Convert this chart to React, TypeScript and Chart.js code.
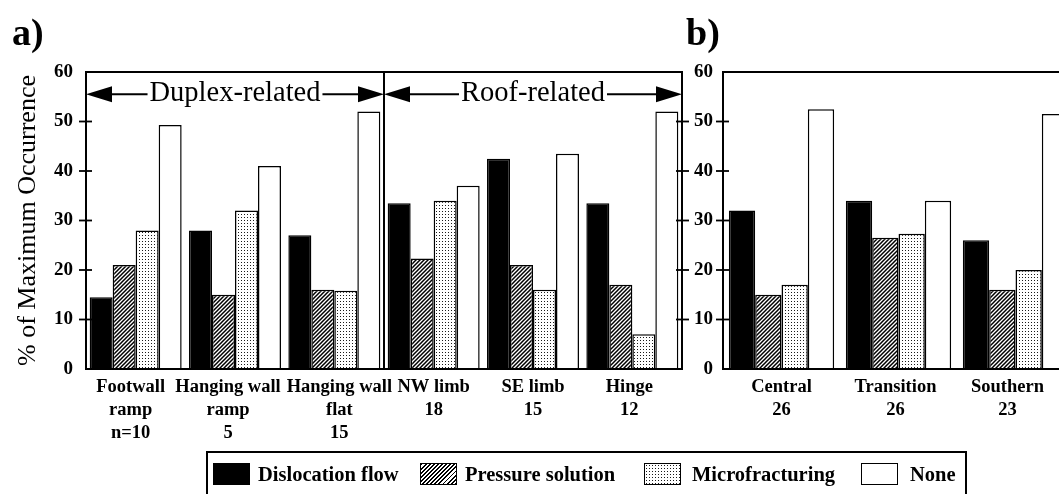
import React, { useEffect, useRef } from "react";
import { Chart, registerables } from "chart.js";

Chart.register(...registerables);

// ---------- DATA ----------
const seriesNames = ["Dislocation flow", "Pressure solution", "Microfracturing", "None"];

const categoriesA = [
  ["Footwall", "ramp", "n=10"],
  ["Hanging wall", "ramp", "5"],
  ["Hanging wall", "flat", "15"],
  ["NW limb", "18"],
  ["SE limb", "15"],
  ["Hinge", "12"],
];
const dislocationA = [14.5, 28, 27, 33.5, 42.5, 33.5];
const pressureA = [21, 15, 16, 22.3, 21, 17];
const microA = [28, 32, 15.8, 34, 16, 7];
const noneA = [49.3, 41, 52, 37, 43.5, 52];

const categoriesB = [
  ["Central", "26"],
  ["Transition", "26"],
  ["Southern", "23"],
];
const dislocationB = [32, 34, 26];
const pressureB = [15, 26.5, 16];
const microB = [17, 27.3, 20];
const noneB = [52.5, 34, 51.5];

const yMin = 0;
const yMax = 60;
const yStep = 10;
const groupLabels = ["Duplex-related", "Roof-related"];
const arrowLevel = 55.5;
const yTitle = "% of Maximum Occurrence";
const panelLabels = ["a)", "b)"];

// label nudges (layout only, px)
const labelShiftA = [-5, -7, 5, 0, 0, -3];
const labelShiftB = [0, -3, -8];

// ---------- STYLE ----------
const SERIF = "'Liberation Serif', 'Times New Roman', serif";
const tickFont = { family: SERIF, size: 19, weight: "bold" as const };
const labelFont = { family: SERIF, size: 18.5, weight: "bold" as const, lineHeight: 1.24 };

function makePatterns(ctx: CanvasRenderingContext2D) {
  const s = 4;
  const hatch = document.createElement("canvas");
  hatch.width = s;
  hatch.height = s;
  const h = hatch.getContext("2d")!;
  h.fillStyle = "#fff";
  h.fillRect(0, 0, s, s);
  h.strokeStyle = "#000";
  h.lineWidth = 1.5;
  h.beginPath();
  h.moveTo(-1, s + 1);
  h.lineTo(s + 1, -1);
  h.moveTo(-1, 1);
  h.lineTo(1, -1);
  h.moveTo(s - 1, s + 1);
  h.lineTo(s + 1, s - 1);
  h.stroke();

  const dots = document.createElement("canvas");
  dots.width = 3;
  dots.height = 3;
  const d = dots.getContext("2d")!;
  d.fillStyle = "#fff";
  d.fillRect(0, 0, 3, 3);
  d.fillStyle = "#1a1a1a";
  d.fillRect(1, 1, 1, 1);

  return {
    hatch: ctx.createPattern(hatch, "repeat")!,
    dots: ctx.createPattern(dots, "repeat")!,
  };
}

function buildDatasets(series: number[][], ctx: CanvasRenderingContext2D) {
  const p = makePatterns(ctx);
  const fills: any[] = ["#000", p.hatch, p.dots, "#fff"];
  return series.map((data, i) => ({
    label: seriesNames[i],
    data,
    backgroundColor: fills[i],
    borderColor: "#000",
    borderWidth: 1.5,
  }));
}

function line(ctx: CanvasRenderingContext2D, x1: number, y1: number, x2: number, y2: number) {
  ctx.beginPath();
  ctx.moveTo(x1, y1);
  ctx.lineTo(x2, y2);
  ctx.stroke();
}

function drawArrow(ctx: CanvasRenderingContext2D, x1: number, x2: number, yy: number, text: string) {
  const headL = 26;
  const headH = 8;
  ctx.save();
  ctx.font = `normal 28.5px ${SERIF}`;
  const w = ctx.measureText(text).width;
  const cx = (x1 + x2) / 2;
  ctx.fillStyle = "#000";
  ctx.strokeStyle = "#000";
  ctx.lineWidth = 2;
  ctx.beginPath();
  ctx.moveTo(x1, yy);
  ctx.lineTo(x1 + headL, yy - headH);
  ctx.lineTo(x1 + headL, yy + headH);
  ctx.closePath();
  ctx.fill();
  ctx.beginPath();
  ctx.moveTo(x2, yy);
  ctx.lineTo(x2 - headL, yy - headH);
  ctx.lineTo(x2 - headL, yy + headH);
  ctx.closePath();
  ctx.fill();
  line(ctx, x1 + headL - 1, yy, cx - w / 2 - 2, yy);
  line(ctx, cx + w / 2 + 2, yy, x2 - headL + 1, yy);
  ctx.textAlign = "center";
  ctx.textBaseline = "middle";
  ctx.fillText(text, cx, yy - 1);
  ctx.restore();
}

function tickValues() {
  const v: number[] = [];
  for (let t = yMin + yStep; t < yMax; t += yStep) v.push(t);
  return v;
}

function shiftLabels(chart: any, shifts: number[]) {
  const sx = chart.scales.x;
  const items = sx.getLabelItems(chart.chartArea);
  items.forEach((it: any, i: number) => {
    if (it._shifted) return;
    it._shifted = true;
    it.options.translation[0] += shifts[i] || 0;
  });
}

const framePluginA = {
  id: "frameA",
  beforeDraw(chart: any) {
    shiftLabels(chart, labelShiftA);
  },
  afterDraw(chart: any) {
    const { ctx, chartArea, scales } = chart;
    const { left, right, top, bottom } = chartArea;
    const x = scales.x;
    const y = scales.y;
    ctx.save();
    ctx.strokeStyle = "#000";
    ctx.lineWidth = 2;
    ctx.strokeRect(left, top, right - left, bottom - top);
    const xd = (x.getPixelForValue(2) + x.getPixelForValue(3)) / 2;
    line(ctx, xd, top, xd, bottom);
    ctx.lineWidth = 1.8;
    tickValues().forEach((v) => {
      const py = y.getPixelForValue(v);
      line(ctx, left - 7, py, left + 6, py);
      line(ctx, right - 6, py, right + 7, py);
    });
    const ay = y.getPixelForValue(arrowLevel);
    drawArrow(ctx, left, xd, ay, groupLabels[0]);
    drawArrow(ctx, xd, right, ay, groupLabels[1]);
    ctx.restore();
  },
};

const framePluginB = {
  id: "frameB",
  beforeDraw(chart: any) {
    shiftLabels(chart, labelShiftB);
  },
  afterDraw(chart: any) {
    const { ctx, chartArea, scales } = chart;
    const { left, right, top, bottom } = chartArea;
    const y = scales.y;
    ctx.save();
    ctx.strokeStyle = "#000";
    ctx.lineWidth = 2;
    ctx.strokeRect(left, top, right - left, bottom - top);
    ctx.lineWidth = 1.8;
    tickValues().forEach((v) => {
      const py = y.getPixelForValue(v);
      line(ctx, left - 7, py, left + 6, py);
    });
    ctx.restore();
  },
};

function baseOptions(opts: {
  padRight: number;
  yWidth: number;
  tickPad: number;
  catPct: number;
  title: boolean;
}) {
  return {
    responsive: false,
    animation: false as const,
    events: [],
    layout: { padding: { left: 0, right: opts.padRight, top: 72, bottom: 0 } },
    plugins: { legend: { display: false }, tooltip: { enabled: false } },
    datasets: { bar: { categoryPercentage: opts.catPct, barPercentage: 1 } },
    scales: {
      x: {
        grid: { display: false, drawTicks: false },
        border: { display: false },
        ticks: { font: labelFont, color: "#000", padding: 7, maxRotation: 0, autoSkip: false },
        afterFit: (s: any) => {
          s.height = 125;
        },
      },
      y: {
        min: yMin,
        max: yMax,
        grid: { display: false, drawTicks: false },
        border: { display: false },
        ticks: { stepSize: yStep, font: tickFont, color: "#000", padding: opts.tickPad },
        title: {
          display: opts.title,
          text: yTitle,
          color: "#000",
          font: { family: SERIF, size: 26, weight: "normal" as const, lineHeight: 1.2 },
          padding: { top: 13, bottom: 0 },
        },
        afterFit: (s: any) => {
          s.width = opts.yWidth;
        },
      },
    },
  };
}

const legendSwatchLeft = [213, 420, 644, 861];
const legendTextLeft = [258, 465, 692, 910];

function swatchStyle(i: number): React.CSSProperties {
  const base: React.CSSProperties = {
    position: "absolute",
    left: legendSwatchLeft[i],
    top: 463,
    width: 37,
    height: 22,
    boxSizing: "border-box",
    border: "1.5px solid #000",
    background: "#fff",
  };
  if (i === 0) base.background = "#000";
  if (i === 1)
    base.background = "repeating-linear-gradient(135deg, #000 0px, #000 1.4px, #fff 1.4px, #fff 2.9px)";
  if (i === 2) {
    base.backgroundColor = "#fff";
    base.backgroundImage = "radial-gradient(circle, #1a1a1a 0.7px, transparent 0.9px)";
    base.backgroundSize = "3px 3px";
  }
  return base;
}

export default function App() {
  const refA = useRef<HTMLCanvasElement>(null);
  const refB = useRef<HTMLCanvasElement>(null);

  useEffect(() => {
    const ctxA = refA.current!.getContext("2d")!;
    const ctxB = refB.current!.getContext("2d")!;
    const chartA = new Chart(ctxA, {
      type: "bar",
      data: {
        labels: categoriesA as any,
        datasets: buildDatasets([dislocationA, pressureA, microA, noneA], ctxA) as any,
      },
      options: baseOptions({ padRight: 38, yWidth: 86, tickPad: 13, catPct: 0.926, title: true }) as any,
      plugins: [framePluginA],
    });
    const chartB = new Chart(ctxB, {
      type: "bar",
      data: {
        labels: categoriesB as any,
        datasets: buildDatasets([dislocationB, pressureB, microB, noneB], ctxB) as any,
      },
      options: baseOptions({ padRight: 46, yWidth: 83, tickPad: 10, catPct: 0.9, title: false }) as any,
      plugins: [framePluginB],
    });
    return () => {
      chartA.destroy();
      chartB.destroy();
    };
  }, []);

  return (
    <div
      style={{
        position: "absolute",
        left: 0,
        top: 0,
        width: 1059,
        height: 494,
        overflow: "hidden",
        background: "#fff",
        fontFamily: SERIF,
        color: "#000",
      }}
    >
      <canvas
        ref={refA}
        width={720}
        height={494}
        style={{ position: "absolute", left: 0, top: 0, width: 720, height: 494 }}
      />
      <canvas
        ref={refB}
        width={480}
        height={494}
        style={{ position: "absolute", left: 640, top: 0, width: 480, height: 494 }}
      />
      <div style={{ position: "absolute", left: 12, top: 13, fontSize: 38, fontWeight: "bold", lineHeight: "38px" }}>
        {panelLabels[0]}
      </div>
      <div style={{ position: "absolute", left: 686, top: 13, fontSize: 38, fontWeight: "bold", lineHeight: "38px" }}>
        {panelLabels[1]}
      </div>
      <div
        style={{
          position: "absolute",
          left: 206,
          top: 451,
          width: 761,
          height: 70,
          boxSizing: "border-box",
          border: "2px solid #000",
        }}
      />
      {seriesNames.map((name, i) => (
        <React.Fragment key={name}>
          <div style={swatchStyle(i)} />
          <div
            style={{
              position: "absolute",
              left: legendTextLeft[i],
              top: 463,
              height: 22,
              lineHeight: "22px",
              fontSize: 20.5,
              fontWeight: "bold",
              whiteSpace: "nowrap",
            }}
          >
            {name}
          </div>
        </React.Fragment>
      ))}
    </div>
  );
}
